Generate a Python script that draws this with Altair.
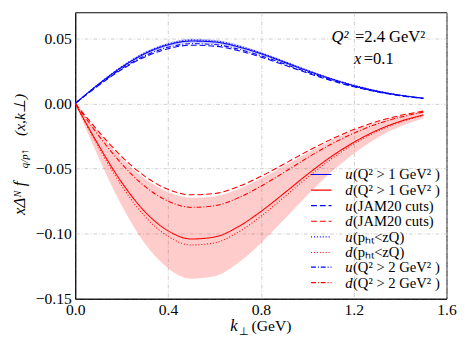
import altair as alt
import pandas as pd

k = [0.0, 0.1, 0.2, 0.3, 0.4, 0.5, 0.6, 0.7, 0.8, 0.9, 1.0, 1.1, 1.2, 1.3, 1.4, 1.5]

u_band_lo = [0, .0142, .0270, .0370, .0436, .0464, .0457, .0423, .0370, .0307, .0243, .0184, .0133, .0092, .0061, .0039]
u_band_hi = [0, .0152, .0288, .0396, .0466, .0496, .0489, .0452, .0396, .0329, .0260, .0197, .0143, .0099, .0066, .0042]
d_band_hi = [0, -.0222, -.0421, -.0578, -.0680, -.0724, -.0714, -.0660, -.0577, -.0480, -.0380, -.0287, -.0208, -.0144, -.0096, -.0061]
d_band_lo = [0, -.0413, -.0783, -.1075, -.1265, -.1346, -.1327, -.1227, -.1073, -.0892, -.0706, -.0533, -.0386, -.0267, -.0178, -.0113]

u_q1 = [0, .0147, .0278, .0382, .0450, .0479, .0472, .0436, .0382, .0317, .0251, .0190, .0137, .0095, .0063, .0040]
d_q1 = [0, -.0319, -.0606, -.0831, -.0978, -.1041, -.1026, -.0949, -.0830, -.0690, -.0546, -.0412, -.0299, -.0207, -.0138, -.0088]
u_jam = [0, .0137, .0260, .0357, .0420, .0447, .0440, .0407, .0356, .0296, .0234, .0177, .0128, .0089, .0059, .0038]
d_jam = [0, -.0215, -.0408, -.0560, -.0660, -.0702, -.0692, -.0640, -.0560, -.0465, -.0368, -.0278, -.0201, -.0139, -.0093, -.0059]
u_pht = [0, .0149, .0283, .0388, .0457, .0487, .0480, .0444, .0388, .0323, .0255, .0193, .0140, .0097, .0064, .0041]
d_pht = [0, -.0334, -.0632, -.0868, -.1021, -.1087, -.1071, -.0991, -.0867, -.0720, -.0570, -.0431, -.0312, -.0216, -.0144, -.0092]
u_q2 = [0, .0141, .0267, .0366, .0431, .0459, .0452, .0418, .0366, .0304, .0241, .0182, .0132, .0091, .0061, .0039]
d_q2 = [0, -.0245, -.0464, -.0637, -.0750, -.0798, -.0786, -.0727, -.0636, -.0529, -.0418, -.0316, -.0229, -.0158, -.0106, -.0067]

labels = [
    "u(Q² > 1 GeV² )", "d(Q² > 1 GeV² )",
    "u(JAM20 cuts)", "d(JAM20 cuts)",
    "u(pₕₜ<zQ)", "d(pₕₜ<zQ)",
    "u(Q² > 2 GeV² )", "d(Q² > 2 GeV² )",
]
series_vals = [u_q1, d_q1, u_jam, d_jam, u_pht, d_pht, u_q2, d_q2]
colors = ["#0000ff", "#ff0000"] * 4
dashes = [[1, 0], [1, 0], [6, 3], [6, 3], [1, 2], [1, 2], [5, 2, 1, 2], [5, 2, 1, 2]]

rows = []
for lab, vals in zip(labels, series_vals):
    for kk, v in zip(k, vals):
        rows.append({"k": kk, "v": v, "series": lab})
lines_df = pd.DataFrame(rows)

bands_df = pd.DataFrame(
    [{"k": kk, "lo": a, "hi": b, "q": "u"} for kk, a, b in zip(k, u_band_lo, u_band_hi)]
    + [{"k": kk, "lo": a, "hi": b, "q": "d"} for kk, a, b in zip(k, d_band_lo, d_band_hi)]
)

legend_df = pd.DataFrame({
    "series": labels,
    "row": list(range(len(labels))),
    "flav": [s[0] for s in labels],
    "rest": [s[1:] for s in labels],
})

FONT = "Liberation Serif"
xsc = alt.Scale(domain=[0, 1.6], nice=False, zero=False)
ysc = alt.Scale(domain=[-0.15, 0.07], nice=False, zero=False)
color_scale = alt.Scale(domain=labels, range=colors)
dash_scale = alt.Scale(domain=labels, range=dashes)

xaxis = alt.Axis(values=[0, 0.4, 0.8, 1.2, 1.6], format=".1f", title=None,
                 labelFlush=False, labelOverlap=False, ticks=False, labelPadding=3)
yaxis = alt.Axis(values=[-0.15, -0.10, -0.05, 0, 0.05], format=".2f", title=None,
                 labelFlush=False, labelOverlap=False, ticks=False, labelPadding=4)

bands = alt.Chart(bands_df).mark_area(interpolate="monotone", opacity=0.2).encode(
    x=alt.X("k:Q", scale=xsc, axis=xaxis),
    y=alt.Y("lo:Q", scale=ysc, axis=yaxis),
    y2="hi:Q",
    fill=alt.Fill("q:N", scale=alt.Scale(domain=["u", "d"], range=["#0000ff", "#ff0000"]), legend=None),
    detail="q:N",
)

lines = alt.Chart(lines_df).mark_line(interpolate="monotone", strokeWidth=1.1).encode(
    x=alt.X("k:Q", scale=xsc),
    y=alt.Y("v:Q", scale=ysc),
    color=alt.Color("series:N", scale=color_scale, legend=None),
    strokeDash=alt.StrokeDash("series:N", scale=dash_scale, legend=None),
)

# manual legend (rows placed via a computed pixel offset)
leg_base = alt.Chart(legend_df).transform_calculate(ypix="round(166 + datum.row * 15.9) + 0.5")
leg_lines = leg_base.mark_rule(strokeWidth=1.2).encode(
    x=alt.value(242), x2=alt.value(263),
    y=alt.Y("ypix:Q", scale=None),
    color=alt.Color("series:N", scale=color_scale, legend=None),
    strokeDash=alt.StrokeDash("series:N", scale=dash_scale, legend=None),
)
leg_flav = leg_base.mark_text(font=FONT, fontSize=15, fontStyle="italic", align="left",
                              baseline="middle", color="black").encode(
    x=alt.value(277), y=alt.Y("ypix:Q", scale=None), text="flav:N",
)
leg_rest = leg_base.mark_text(font=FONT, fontSize=15, align="left",
                              baseline="middle", color="black").encode(
    x=alt.value(285), y=alt.Y("ypix:Q", scale=None), text="rest:N",
)

one = pd.DataFrame({"a": [0]})

def txt(s, x, y, size=16, style="normal", angle=0, align="left", baseline="alphabetic"):
    return alt.Chart(one).mark_text(
        text=s, font=FONT, fontSize=size, fontStyle=style, angle=angle,
        align=align, baseline=baseline, color="black"
    ).encode(x=alt.value(x), y=alt.value(y))

annot = [
    txt("Q²", 263, 31, 17, "italic"),
    txt("=2.4 GeV²", 287, 31, 17),
    txt("x", 286, 53, 17, "italic"),
    txt("=0.1", 296, 53, 17),
    # y-axis title
    txt("xΔᴺ f", -57, 208, 17, "italic", 270, "left", "middle"),
    txt("q/p↑", -51, 160, 11, "italic", 270, "left", "middle"),
    txt("(x,k⊥)", -57, 127, 16, "italic", 270, "left", "middle"),
    # x-axis title
    txt("k", 159, 327, 17, "italic"),
    txt("⊥", 168, 331, 11),
    txt("(GeV)", 181, 327, 16),
]

chart = alt.layer(bands, lines, leg_lines, leg_flav, leg_rest, *annot).properties(
    width=381, height=294,
    autosize=alt.AutoSizeParams(type="none"),
    padding={"left": 69, "top": 0, "right": 20, "bottom": 40},
).configure_view(stroke="black", strokeWidth=1).configure_axis(
    labelFont=FONT, labelFontSize=16, labelColor="black",
    domainColor="black", domainWidth=1,
    grid=True, gridColor="#c4c4c4", gridDash=[4, 2, 1, 2], gridWidth=0.8,
)

chart.save("out.html", embed_options={"renderer": "svg", "actions": False})
